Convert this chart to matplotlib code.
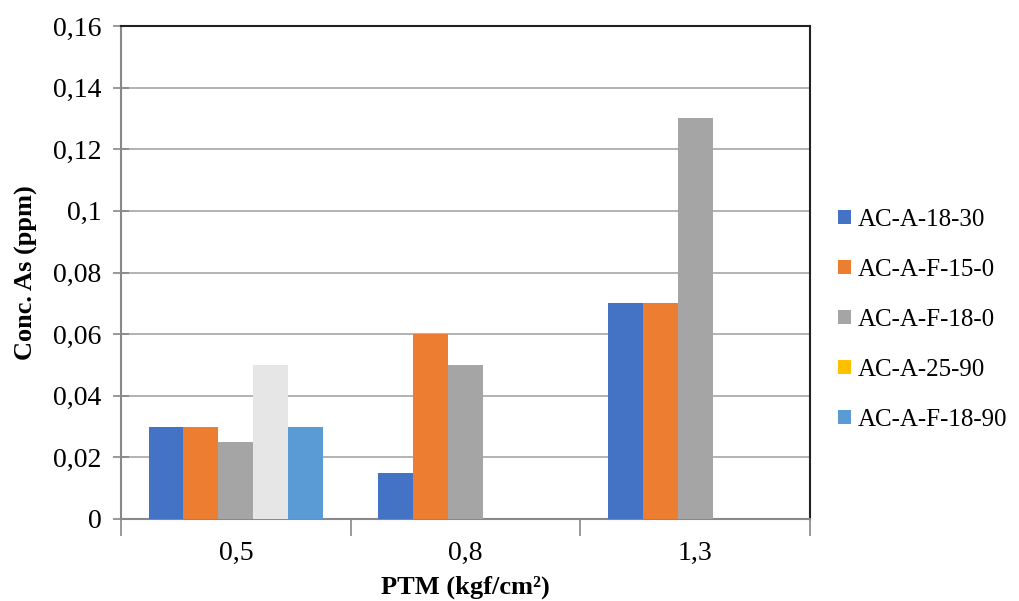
import matplotlib.pyplot as plt
from matplotlib.patches import Patch
import numpy as np

# data
categories = ["0,5", "0,8", "1,3"]
series = ["AC-A-18-30", "AC-A-F-15-0", "AC-A-F-18-0", "AC-A-25-90", "AC-A-F-18-90"]
values = [
    [0.03, 0.015, 0.07],   # AC-A-18-30
    [0.03, 0.06, 0.07],    # AC-A-F-15-0
    [0.025, 0.05, 0.13],   # AC-A-F-18-0
    [0.05, 0.0, 0.0],      # AC-A-25-90
    [0.03, 0.0, 0.0],      # AC-A-F-18-90
]
yticks = [0, 0.02, 0.04, 0.06, 0.08, 0.1, 0.12, 0.14, 0.16]
ytick_labels = ["0", "0,02", "0,04", "0,06", "0,08", "0,1", "0,12", "0,14", "0,16"]

colors = ["#4472C4", "#ED7D31", "#A5A5A5", "#FFC000", "#5B9BD5"]
# the 4th bar of the first group is drawn light gray in the original
bar_override = {(3, 0): "#E7E6E6"}

plt.rcParams['font.family'] = ['Liberation Serif', 'DejaVu Serif']

fig = plt.figure(figsize=(10.19, 6.01), dpi=100)
ax = fig.add_axes([121 / 1019, 1 - 519 / 601, (810 - 121) / 1019, (519 - 26) / 601])

x = np.arange(len(categories))
w = 0.152
for i, (name, vals) in enumerate(zip(series, values)):
    pos = x + (i - 2) * w
    cols = [bar_override.get((i, j), colors[i]) for j in range(len(vals))]
    ax.bar(pos, vals, width=w, color=cols, zorder=3)

ax.set_xlim(-0.5, 2.5)
ax.set_ylim(0, 0.16)
ax.set_yticks(yticks)
ax.set_yticklabels(ytick_labels, fontsize=20)
ax.grid(axis='y', color='#A6A6A6', linewidth=1.2, zorder=0)

ax.set_xticks(x)
ax.set_xticklabels(categories, fontsize=20)
ax.tick_params(axis='x', length=0, pad=16)
ax.set_xticks([-0.5, 0.5, 1.5, 2.5], minor=True)
ax.tick_params(axis='x', which='minor', length=12, color='#888888', width=1.2, direction='out')
ax.tick_params(axis='y', length=12, direction='inout', color='#888888', width=1.2, pad=8)

for s in ['left', 'bottom']:
    ax.spines[s].set_color('#888888')
    ax.spines[s].set_linewidth(1.5)
for s in ['top', 'right']:
    ax.spines[s].set_color('#222222')
    ax.spines[s].set_linewidth(1.5)

ax.set_ylabel("Conc. As (ppm)", fontsize=19, fontweight='bold', labelpad=11)
ax.set_xlabel("PTM (kgf/cm²)", fontsize=19, fontweight='bold', labelpad=7)

handles = [Patch(facecolor=c, label=n) for c, n in zip(colors, series)]
ax.legend(handles=handles, loc='center left', bbox_to_anchor=(1.041, 0.404),
          frameon=False, borderaxespad=0, borderpad=0,
          fontsize=18, handlelength=0.5, handleheight=0.5, handletextpad=0.3,
          labelspacing=1.12)

fig.savefig("out.png", dpi=100)
